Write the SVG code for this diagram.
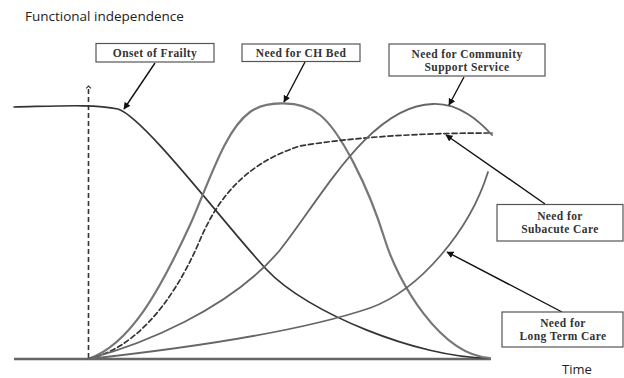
<svg xmlns="http://www.w3.org/2000/svg" width="624" height="378" viewBox="0 0 624 378">
<defs>
<marker id="ah" viewBox="0 0 10 10" refX="9" refY="5" markerWidth="7" markerHeight="7" markerUnits="userSpaceOnUse" orient="auto">
<path d="M0,0 L10,5 L0,10 Z" fill="#111"/>
</marker>
<marker id="chev" viewBox="0 0 10 10" refX="5" refY="1" markerWidth="6" markerHeight="6" markerUnits="userSpaceOnUse" orient="0">
<path d="M1,5 L5,1 L9,5" fill="none" stroke="#333" stroke-width="2"/>
</marker>
<style>
.box rect{fill:#fff;stroke:#555;stroke-width:1.2}
.box text{font-family:"Liberation Serif","Times New Roman",serif;font-weight:bold;font-size:11.5px;letter-spacing:0.4px;fill:#333;text-anchor:middle}
.curve{fill:none;stroke-linecap:round}
.ptr{stroke:#111;stroke-width:1.4;fill:none;marker-end:url(#ah)}
.lbl{font-family:"Open Sans","Liberation Sans",sans-serif;font-size:13.5px;fill:#222}
</style>
</defs>
<rect width="624" height="378" fill="#fff"/>
<text class="lbl" x="25" y="21">Functional independence</text>
<text class="lbl" x="562" y="374" style="font-size:13px">Time</text>

<g id="axes">
<line x1="14" y1="359" x2="491" y2="359" stroke="#666" stroke-width="2.5"/>
<line x1="88.5" y1="358" x2="88.5" y2="86" stroke="#333" stroke-width="1.6" stroke-dasharray="5,3" marker-end="url(#chev)"/>
</g>

<g id="curves">
<path id="frailty" class="curve" stroke="#333" stroke-width="1.7" d="M14,107 C60,106 95,104 118,109 C145,118 225,225 267,270 C307,313 420,358 487,358"/>
<path id="ch-bed" class="curve" stroke="#777" stroke-width="2.2" d="M88,359 C130,345 160,290 190,225 C210,180 225,130 250,112 C265,101 300,99 320,115 C340,131 368,185 385,240 C398,282 440,355 490,358"/>
<path id="subacute" class="curve" stroke="#333" stroke-width="1.7" stroke-dasharray="5,3" d="M88,359 C130,350 170,310 200,240 C215,205 240,165 300,146 C360,136 430,133 492,133"/>
<path id="community" class="curve" stroke="#666" stroke-width="1.8" d="M88,359 C140,345 230,310 280,250 C320,200 370,105 433,104 C460,103 480,122 492,135"/>
<path id="long-term" class="curve" stroke="#666" stroke-width="1.8" d="M88,359 C170,350 290,335 370,308 C420,290 470,230 488,172"/>
</g>

<g id="connectors">
<line class="ptr" x1="155" y1="63" x2="124" y2="109"/>
<line class="ptr" x1="305" y1="62" x2="284" y2="102"/>
<line class="ptr" x1="464" y1="77" x2="449" y2="105"/>
<line class="ptr" x1="545" y1="204" x2="446" y2="135"/>
<line class="ptr" x1="562" y1="312" x2="447" y2="252"/>
</g>

<g id="onset-of-frailty" class="box">
<rect x="96" y="43.5" width="118" height="18.5"/>
<text x="155" y="57">Onset of Frailty</text>
</g>
<g id="need-ch-bed" class="box">
<rect x="242" y="44" width="118" height="17.5"/>
<text x="301" y="57">Need for CH Bed</text>
</g>
<g id="need-community" class="box">
<rect x="389" y="44" width="156" height="32"/>
<text x="467" y="57.5">Need for Community</text>
<text x="467" y="70.5">Support Service</text>
</g>
<g id="need-subacute" class="box">
<rect x="497" y="204.5" width="126" height="36.5"/>
<text x="560" y="220">Need for</text>
<text x="560" y="233">Subacute Care</text>
</g>
<g id="need-long-term" class="box">
<rect x="502" y="312" width="121" height="35"/>
<text x="563" y="326.5">Need for</text>
<text x="563" y="339.5">Long Term Care</text>
</g>
</svg>
